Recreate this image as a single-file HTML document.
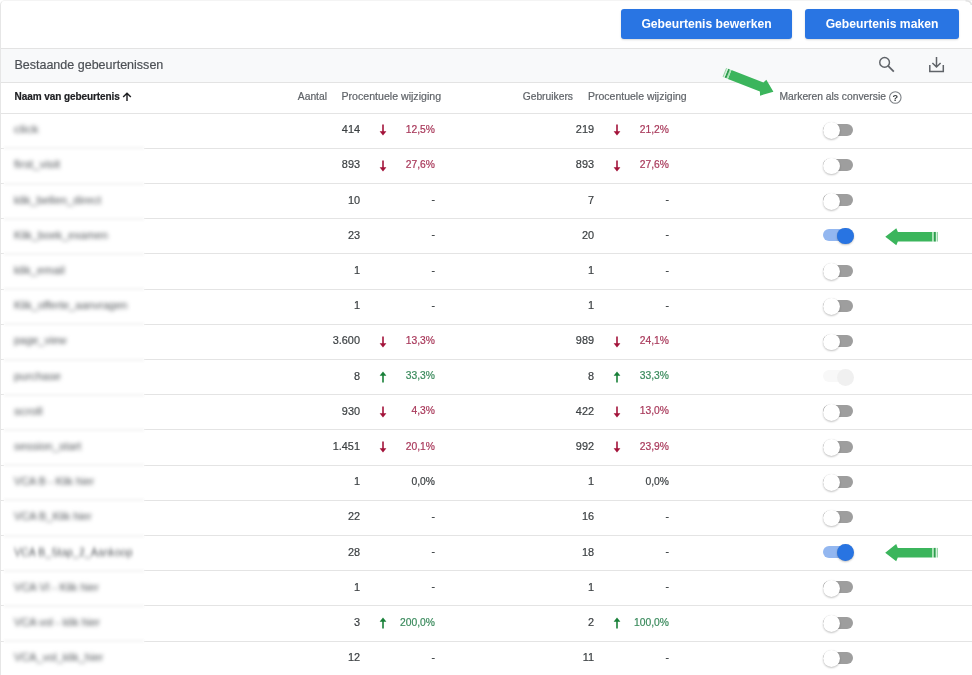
<!DOCTYPE html>
<html><head><meta charset="utf-8"><style>
*{box-sizing:border-box;margin:0;padding:0}
html,body{width:972px;height:675px;overflow:hidden;background:#fff}
body{position:relative;font-family:"Liberation Sans",Arial,sans-serif;color:#3c4043}
.num,.pct,.hd,.sec .t{-webkit-text-stroke:0.2px currentColor}
.card{position:absolute;left:0;top:0;width:990px;height:700px;border:1px solid #f4f4f4;border-left-color:#e6e6e6;border-radius:5px}
.btn{position:absolute;top:9px;height:30px;background:#2975e3;border-radius:3px;color:#fff;font-weight:700;font-size:12.15px;line-height:30px;text-align:center;box-shadow:0 1px 2px rgba(0,0,0,.15)}
.sec{position:absolute;left:1px;top:48px;width:971px;height:35px;background:#f8f9fa;border-top:1px solid #e3e3e3;border-bottom:1px solid #e3e3e3}
.sec .t{position:absolute;left:13.4px;top:9.1px;font-size:12.53px;color:#4d5156;white-space:nowrap}
.hd{position:absolute;top:89.6px;font-size:10.3px;color:#5f6368;white-space:nowrap;line-height:14px}
.hd.b{font-weight:700;color:#202124;font-size:10px;letter-spacing:-0.08px}
.line{position:absolute;left:144px;width:828px;height:1px;background:#e4e4e4}
.stub{position:absolute;left:1px;width:3px;height:1px;background:#e4e4e4}
.band{position:absolute;left:4px;width:140px;height:4px;background:#f9f9f9;filter:blur(1px)}
.nm{position:absolute;left:14px;font-size:11px;line-height:14px;color:#4f5357;filter:blur(1.9px);white-space:nowrap;transform-origin:0 50%}
.num,.pct{position:absolute;font-size:10.9px;line-height:14px;color:#3c4043;white-space:nowrap}
.pct{font-size:10.3px;margin-top:0.6px}
.pct.neg{color:#a8385a}
.pct.pos{color:#3a8a5c}
.arw{position:absolute;width:8px;height:12px}
.arw svg{display:block}
.tg{position:absolute;left:821px;width:34px;height:18px}
.tg .tr{position:absolute;left:2px;top:2.6px;width:30px;height:12px;border-radius:6px;background:#9e9e9e}
.tg .th{position:absolute;left:2.1px;top:1.2px;width:16.8px;height:16.8px;border-radius:50%;background:#fff;box-shadow:0 1px 2px rgba(0,0,0,.24),0 0 0.6px rgba(0,0,0,.16)}
.tg.on .tr{background:#93b7f0}
.tg.on .th{left:16.1px;top:0.9px;background:#2874e2}
.tg.dis .tr{background:#f8f8f8}
.tg.dis .th{left:16px;background:#f0f0f0;box-shadow:none;filter:blur(0.6px)}
</style></head><body><div id="wrap" style="position:absolute;left:0;top:0;width:972px;height:675px;will-change:transform">
<div class="card"></div>
<div class="btn" style="left:621px;width:171px">Gebeurtenis bewerken</div>
<div class="btn" style="left:805px;width:154px">Gebeurtenis maken</div>
<div class="sec"><div class="t">Bestaande gebeurtenissen</div>
</div>
<svg style="position:absolute;left:122px;top:92px" width="10" height="9.6" viewBox="0 0 10 10"><path d="M5 9.5V1.2M1 5.2L5 1.2L9 5.2" stroke="#202124" stroke-width="1.5" fill="none"/></svg>
<svg style="position:absolute;left:0;top:0" width="972" height="120" viewBox="0 0 972 120"><circle cx="884.6" cy="62.4" r="4.85" stroke="#5f6368" stroke-width="1.45" fill="none"/><path d="M888.1 65.9L893.8 71.6" stroke="#5f6368" stroke-width="1.75"/><path d="M936.5 57V67M932.4 63L936.5 67L940.6 63" stroke="#5f6368" stroke-width="1.5" fill="none"/><path d="M929.8 65V71.4H943.3V65" stroke="#5f6368" stroke-width="1.5" fill="none"/></svg>
<div class="hd b" style="left:14.6px">Naam van gebeurtenis </div>
<div class="hd" style="right:645px">Aantal</div>
<div class="hd" style="left:341.5px;font-size:10.6px;margin-top:-0.4px">Procentuele wijziging</div>
<div class="hd" style="right:399px">Gebruikers</div>
<div class="hd" style="left:588px;font-size:10.5px;margin-top:-0.3px">Procentuele wijziging</div>
<div class="hd" style="left:779.5px">Markeren als conversie</div>
<svg style="position:absolute;left:888px;top:91px" width="15" height="15" viewBox="0 0 15 15"><circle cx="7.3" cy="6.5" r="5.75" stroke="#7d8186" stroke-width="1.1" fill="none"/><text x="7.2" y="9.9" font-family="Liberation Sans" font-weight="700" font-size="9.2" fill="#3c4043" text-anchor="middle">?</text></svg>
<div class="line" style="top:112.6px;left:1px;width:971px"></div>
<div class="nm" style="top:122.2px;transform:scaleX(1.147)">click</div>
<div class="num" style="right:612px;top:122.2px">414</div>
<div class="arw" style="left:378.7px;top:124.29999999999998px"><svg class="ar" viewBox="0 0 8 12" width="8" height="12"><path d="M4 0.5V8" stroke="#a3133a" stroke-width="1.6" fill="none"/><path d="M0.6 7.2L4 11.5L7.4 7.2Z" fill="#a3133a"/></svg></div>
<div class="pct neg" style="right:537px;top:122.2px">12,5%</div>
<div class="num" style="right:378px;top:122.2px">219</div>
<div class="arw" style="left:612.5px;top:124.29999999999998px"><svg class="ar" viewBox="0 0 8 12" width="8" height="12"><path d="M4 0.5V8" stroke="#a3133a" stroke-width="1.6" fill="none"/><path d="M0.6 7.2L4 11.5L7.4 7.2Z" fill="#a3133a"/></svg></div>
<div class="pct neg" style="right:303px;top:122.2px">21,2%</div>
<div class="tg off" style="top:121.2px"><div class="tr"></div><div class="th"></div></div>
<div class="line" style="top:147.8px"></div><div class="stub" style="top:147.8px"></div><div class="band" style="top:146.3px"></div>
<div class="nm" style="top:157.4px;transform:scaleX(1.078)">first_visit</div>
<div class="num" style="right:612px;top:157.4px">893</div>
<div class="arw" style="left:378.7px;top:159.5px"><svg class="ar" viewBox="0 0 8 12" width="8" height="12"><path d="M4 0.5V8" stroke="#a3133a" stroke-width="1.6" fill="none"/><path d="M0.6 7.2L4 11.5L7.4 7.2Z" fill="#a3133a"/></svg></div>
<div class="pct neg" style="right:537px;top:157.4px">27,6%</div>
<div class="num" style="right:378px;top:157.4px">893</div>
<div class="arw" style="left:612.5px;top:159.5px"><svg class="ar" viewBox="0 0 8 12" width="8" height="12"><path d="M4 0.5V8" stroke="#a3133a" stroke-width="1.6" fill="none"/><path d="M0.6 7.2L4 11.5L7.4 7.2Z" fill="#a3133a"/></svg></div>
<div class="pct neg" style="right:303px;top:157.4px">27,6%</div>
<div class="tg off" style="top:156.4px"><div class="tr"></div><div class="th"></div></div>
<div class="line" style="top:183.0px"></div><div class="stub" style="top:183.0px"></div><div class="band" style="top:181.5px"></div>
<div class="nm" style="top:192.6px;transform:scaleX(1.032)">klik_bellen_direct</div>
<div class="num" style="right:612px;top:192.6px">10</div>
<div class="pct" style="right:537px;top:192.6px">-</div>
<div class="num" style="right:378px;top:192.6px">7</div>
<div class="pct" style="right:303px;top:192.6px">-</div>
<div class="tg off" style="top:191.6px"><div class="tr"></div><div class="th"></div></div>
<div class="line" style="top:218.2px"></div><div class="stub" style="top:218.2px"></div><div class="band" style="top:216.7px"></div>
<div class="nm" style="top:227.8px;transform:scaleX(1.010)">Klik_boek_examen</div>
<div class="num" style="right:612px;top:227.8px">23</div>
<div class="pct" style="right:537px;top:227.8px">-</div>
<div class="num" style="right:378px;top:227.8px">20</div>
<div class="pct" style="right:303px;top:227.8px">-</div>
<div class="tg on" style="top:226.8px"><div class="tr"></div><div class="th"></div></div>
<div class="line" style="top:253.4px"></div><div class="stub" style="top:253.4px"></div><div class="band" style="top:251.9px"></div>
<div class="nm" style="top:263.0px;transform:scaleX(1.050)">klik_email</div>
<div class="num" style="right:612px;top:263.0px">1</div>
<div class="pct" style="right:537px;top:263.0px">-</div>
<div class="num" style="right:378px;top:263.0px">1</div>
<div class="pct" style="right:303px;top:263.0px">-</div>
<div class="tg off" style="top:262.0px"><div class="tr"></div><div class="th"></div></div>
<div class="line" style="top:288.6px"></div><div class="stub" style="top:288.6px"></div><div class="band" style="top:287.1px"></div>
<div class="nm" style="top:298.2px;transform:scaleX(1.005)">Klik_offerte_aanvragen</div>
<div class="num" style="right:612px;top:298.2px">1</div>
<div class="pct" style="right:537px;top:298.2px">-</div>
<div class="num" style="right:378px;top:298.2px">1</div>
<div class="pct" style="right:303px;top:298.2px">-</div>
<div class="tg off" style="top:297.2px"><div class="tr"></div><div class="th"></div></div>
<div class="line" style="top:323.8px"></div><div class="stub" style="top:323.8px"></div><div class="band" style="top:322.3px"></div>
<div class="nm" style="top:333.4px;transform:scaleX(0.996)">page_view</div>
<div class="num" style="right:612px;top:333.4px">3.600</div>
<div class="arw" style="left:378.7px;top:335.50000000000006px"><svg class="ar" viewBox="0 0 8 12" width="8" height="12"><path d="M4 0.5V8" stroke="#a3133a" stroke-width="1.6" fill="none"/><path d="M0.6 7.2L4 11.5L7.4 7.2Z" fill="#a3133a"/></svg></div>
<div class="pct neg" style="right:537px;top:333.4px">13,3%</div>
<div class="num" style="right:378px;top:333.4px">989</div>
<div class="arw" style="left:612.5px;top:335.50000000000006px"><svg class="ar" viewBox="0 0 8 12" width="8" height="12"><path d="M4 0.5V8" stroke="#a3133a" stroke-width="1.6" fill="none"/><path d="M0.6 7.2L4 11.5L7.4 7.2Z" fill="#a3133a"/></svg></div>
<div class="pct neg" style="right:303px;top:333.4px">24,1%</div>
<div class="tg off" style="top:332.4px"><div class="tr"></div><div class="th"></div></div>
<div class="line" style="top:359.0px"></div><div class="stub" style="top:359.0px"></div><div class="band" style="top:357.5px"></div>
<div class="nm" style="top:368.6px;transform:scaleX(1.037)">purchase</div>
<div class="num" style="right:612px;top:368.6px">8</div>
<div class="arw" style="left:378.7px;top:370.70000000000005px"><svg class="ar" viewBox="0 0 8 12" width="8" height="12"><path d="M4 4V11.5" stroke="#188038" stroke-width="1.6" fill="none"/><path d="M0.6 4.8L4 0.5L7.4 4.8Z" fill="#188038"/></svg></div>
<div class="pct pos" style="right:537px;top:368.6px">33,3%</div>
<div class="num" style="right:378px;top:368.6px">8</div>
<div class="arw" style="left:612.5px;top:370.70000000000005px"><svg class="ar" viewBox="0 0 8 12" width="8" height="12"><path d="M4 4V11.5" stroke="#188038" stroke-width="1.6" fill="none"/><path d="M0.6 4.8L4 0.5L7.4 4.8Z" fill="#188038"/></svg></div>
<div class="pct pos" style="right:303px;top:368.6px">33,3%</div>
<div class="tg dis" style="top:367.6px"><div class="tr"></div><div class="th"></div></div>
<div class="line" style="top:394.2px"></div><div class="stub" style="top:394.2px"></div><div class="band" style="top:392.7px"></div>
<div class="nm" style="top:403.8px;transform:scaleX(1.104)">scroll</div>
<div class="num" style="right:612px;top:403.8px">930</div>
<div class="arw" style="left:378.7px;top:405.9000000000001px"><svg class="ar" viewBox="0 0 8 12" width="8" height="12"><path d="M4 0.5V8" stroke="#a3133a" stroke-width="1.6" fill="none"/><path d="M0.6 7.2L4 11.5L7.4 7.2Z" fill="#a3133a"/></svg></div>
<div class="pct neg" style="right:537px;top:403.8px">4,3%</div>
<div class="num" style="right:378px;top:403.8px">422</div>
<div class="arw" style="left:612.5px;top:405.9000000000001px"><svg class="ar" viewBox="0 0 8 12" width="8" height="12"><path d="M4 0.5V8" stroke="#a3133a" stroke-width="1.6" fill="none"/><path d="M0.6 7.2L4 11.5L7.4 7.2Z" fill="#a3133a"/></svg></div>
<div class="pct neg" style="right:303px;top:403.8px">13,0%</div>
<div class="tg off" style="top:402.8px"><div class="tr"></div><div class="th"></div></div>
<div class="line" style="top:429.4px"></div><div class="stub" style="top:429.4px"></div><div class="band" style="top:427.9px"></div>
<div class="nm" style="top:439.0px;transform:scaleX(1.037)">session_start</div>
<div class="num" style="right:612px;top:439.0px">1.451</div>
<div class="arw" style="left:378.7px;top:441.1px"><svg class="ar" viewBox="0 0 8 12" width="8" height="12"><path d="M4 0.5V8" stroke="#a3133a" stroke-width="1.6" fill="none"/><path d="M0.6 7.2L4 11.5L7.4 7.2Z" fill="#a3133a"/></svg></div>
<div class="pct neg" style="right:537px;top:439.0px">20,1%</div>
<div class="num" style="right:378px;top:439.0px">992</div>
<div class="arw" style="left:612.5px;top:441.1px"><svg class="ar" viewBox="0 0 8 12" width="8" height="12"><path d="M4 0.5V8" stroke="#a3133a" stroke-width="1.6" fill="none"/><path d="M0.6 7.2L4 11.5L7.4 7.2Z" fill="#a3133a"/></svg></div>
<div class="pct neg" style="right:303px;top:439.0px">23,9%</div>
<div class="tg off" style="top:438.0px"><div class="tr"></div><div class="th"></div></div>
<div class="line" style="top:464.6px"></div><div class="stub" style="top:464.6px"></div><div class="band" style="top:463.1px"></div>
<div class="nm" style="top:474.2px;transform:scaleX(0.985)">VCA B - Klik hier</div>
<div class="num" style="right:612px;top:474.2px">1</div>
<div class="pct" style="right:537px;top:474.2px">0,0%</div>
<div class="num" style="right:378px;top:474.2px">1</div>
<div class="pct" style="right:303px;top:474.2px">0,0%</div>
<div class="tg off" style="top:473.2px"><div class="tr"></div><div class="th"></div></div>
<div class="line" style="top:499.8px"></div><div class="stub" style="top:499.8px"></div><div class="band" style="top:498.3px"></div>
<div class="nm" style="top:509.4px;transform:scaleX(0.999)">VCA B_Klik hier</div>
<div class="num" style="right:612px;top:509.4px">22</div>
<div class="pct" style="right:537px;top:509.4px">-</div>
<div class="num" style="right:378px;top:509.4px">16</div>
<div class="pct" style="right:303px;top:509.4px">-</div>
<div class="tg off" style="top:508.4px"><div class="tr"></div><div class="th"></div></div>
<div class="line" style="top:535.0px"></div><div class="stub" style="top:535.0px"></div><div class="band" style="top:533.5px"></div>
<div class="nm" style="top:544.6px;transform:scaleX(0.965)">VCA B_Stap_2_Aankoop</div>
<div class="num" style="right:612px;top:544.6px">28</div>
<div class="pct" style="right:537px;top:544.6px">-</div>
<div class="num" style="right:378px;top:544.6px">18</div>
<div class="pct" style="right:303px;top:544.6px">-</div>
<div class="tg on" style="top:543.6px"><div class="tr"></div><div class="th"></div></div>
<div class="line" style="top:570.2px"></div><div class="stub" style="top:570.2px"></div><div class="band" style="top:568.7px"></div>
<div class="nm" style="top:579.8px;transform:scaleX(1.006)">VCA VI - Klik hier</div>
<div class="num" style="right:612px;top:579.8px">1</div>
<div class="pct" style="right:537px;top:579.8px">-</div>
<div class="num" style="right:378px;top:579.8px">1</div>
<div class="pct" style="right:303px;top:579.8px">-</div>
<div class="tg off" style="top:578.8px"><div class="tr"></div><div class="th"></div></div>
<div class="line" style="top:605.4px"></div><div class="stub" style="top:605.4px"></div><div class="band" style="top:603.9px"></div>
<div class="nm" style="top:615.0px;transform:scaleX(0.998)">VCA vol - klik hier</div>
<div class="num" style="right:612px;top:615.0px">3</div>
<div class="arw" style="left:378.7px;top:617.1000000000001px"><svg class="ar" viewBox="0 0 8 12" width="8" height="12"><path d="M4 4V11.5" stroke="#188038" stroke-width="1.6" fill="none"/><path d="M0.6 4.8L4 0.5L7.4 4.8Z" fill="#188038"/></svg></div>
<div class="pct pos" style="right:537px;top:615.0px">200,0%</div>
<div class="num" style="right:378px;top:615.0px">2</div>
<div class="arw" style="left:612.5px;top:617.1000000000001px"><svg class="ar" viewBox="0 0 8 12" width="8" height="12"><path d="M4 4V11.5" stroke="#188038" stroke-width="1.6" fill="none"/><path d="M0.6 4.8L4 0.5L7.4 4.8Z" fill="#188038"/></svg></div>
<div class="pct pos" style="right:303px;top:615.0px">100,0%</div>
<div class="tg off" style="top:614.0px"><div class="tr"></div><div class="th"></div></div>
<div class="line" style="top:640.6px"></div><div class="stub" style="top:640.6px"></div><div class="band" style="top:639.1px"></div>
<div class="nm" style="top:650.2px;transform:scaleX(0.999)">VCA_vol_klik_hier</div>
<div class="num" style="right:612px;top:650.2px">12</div>
<div class="pct" style="right:537px;top:650.2px">-</div>
<div class="num" style="right:378px;top:650.2px">11</div>
<div class="pct" style="right:303px;top:650.2px">-</div>
<div class="tg off" style="top:649.2px"><div class="tr"></div><div class="th"></div></div>

<svg style="position:absolute;left:0;top:0" width="972" height="675" viewBox="0 0 972 675">

<path d="M965.5 0.8Q971.2 0.8 971.4 5" stroke="#e2e2e2" stroke-width="1.4" fill="none"/>
<g transform="translate(885.3,236.75)"><path d="M0 0L11 -8.6L12.6 -4.8L47 -4.8L47 4.8L12.6 4.8L11 8.6Z" fill="#3bb55c"/><rect x="47" y="-4.8" width="1.6" height="9.6" fill="#a8e4b4"/><rect x="48.6" y="-4.8" width="2" height="9.6" fill="#2f9e4f"/><rect x="50.6" y="-4.8" width="1.2" height="9.6" fill="#d6f2dc"/><rect x="51.8" y="-4.8" width="0.9" height="9.6" fill="#8fd29f"/></g>
<g transform="translate(885.2,552.7)"><path d="M0 0L11 -8.6L12.6 -4.8L47 -4.8L47 4.8L12.6 4.8L11 8.6Z" fill="#3bb55c"/><rect x="47" y="-4.8" width="1.6" height="9.6" fill="#a8e4b4"/><rect x="48.6" y="-4.8" width="2" height="9.6" fill="#2f9e4f"/><rect x="50.6" y="-4.8" width="1.2" height="9.6" fill="#d6f2dc"/><rect x="51.8" y="-4.8" width="0.9" height="9.6" fill="#8fd29f"/></g>
<g transform="translate(773.4,91.7) rotate(201.5)"><path d="M0 0L11 -8.6L12.6 -4.8L47 -4.8L47 4.8L12.6 4.8L11 8.6Z" fill="#3bb55c"/><rect x="47" y="-4.8" width="1.6" height="9.6" fill="#a8e4b4"/><rect x="48.6" y="-4.8" width="2" height="9.6" fill="#2f9e4f"/><rect x="50.6" y="-4.8" width="1.2" height="9.6" fill="#d6f2dc"/><rect x="51.8" y="-4.8" width="0.9" height="9.6" fill="#8fd29f"/></g>
</svg>
</div></body></html>
